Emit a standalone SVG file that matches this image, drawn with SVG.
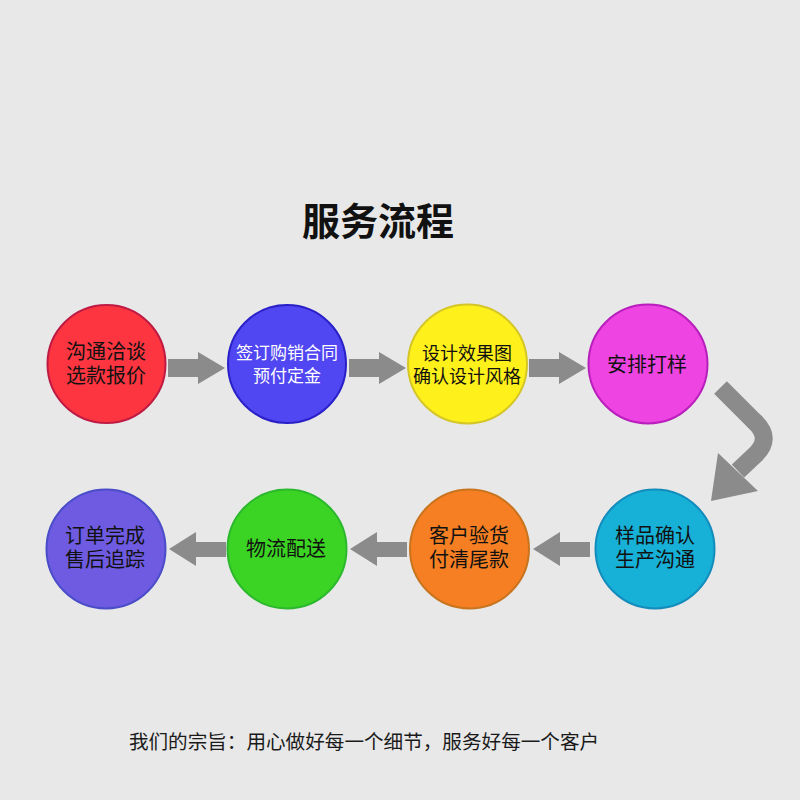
<svg xmlns="http://www.w3.org/2000/svg" width="800" height="800" viewBox="0 0 800 800">
<style>
text{font-family:"Noto Sans CJK SC","Noto Sans",sans-serif;text-anchor:middle;dominant-baseline:central;fill:#111}
.t{font-family:"Liberation Sans","Noto Sans CJK SC",sans-serif}
.n{font-size:20px}
.s{font-size:17px}
.m{font-size:18px}
.w{fill:#fff}
.arr{fill:#8b8b8b}
.c{stroke-width:2}
</style>
<rect width="800" height="800" fill="#e8e8e8"/>
<text x="378" y="218" style="font-size:38px;font-weight:bold">服务流程</text>
<g id="connectors">
<polygon class="arr" points="168,359 198,359 198,352 225,368 198,384 198,377 168,377"/>
<polygon class="arr" points="349,359 379,359 379,352 406,368 379,384 379,377 349,377"/>
<polygon class="arr" points="529,359 559,359 559,352 586,368 559,384 559,377 529,377"/>
<path d="M720.5 387.5 L754 421 Q773 438 755 455 L738 471" fill="none" stroke="#8b8b8b" stroke-width="18"/>
<polygon class="arr" points="718,453 758,491 711,501"/>
<polygon class="arr" points="590,542 560,542 560,532 533,549 560,566 560,557 590,557"/>
<polygon class="arr" points="407,542 377,542 377,532 350,549 377,566 377,557 407,557"/>
<polygon class="arr" points="226,542 196,542 196,532 169,549 196,566 196,557 226,557"/>
</g>
<g id="n1"><circle class="c" cx="106.5" cy="364" r="59" fill="#fd3540" stroke="#be1a44"/><text class="t n"><tspan x="106" y="352">沟通洽谈</tspan><tspan x="106" y="376">选款报价</tspan></text></g>
<g id="n2"><circle class="c" cx="287" cy="364" r="59" fill="#5046f2" stroke="#2a20c8"/><text class="t s w"><tspan x="287" y="352.5">签订购销合同</tspan><tspan x="287" y="375.5">预付定金</tspan></text></g>
<g id="n3"><circle class="c" cx="467.5" cy="364" r="59.5" fill="#fef01a" stroke="#d4c628"/><text class="t m"><tspan x="467" y="353.5">设计效果图</tspan><tspan x="467" y="376.5">确认设计风格</tspan></text></g>
<g id="n4"><circle class="c" cx="648" cy="364" r="59.5" fill="#ee44e2" stroke="#b81ebc"/><text class="n" x="647" y="363">安排打样</text></g>
<g id="n5"><circle class="c" cx="655" cy="549" r="59.5" fill="#17b0d6" stroke="#138cbc"/><text class="t n"><tspan x="655" y="536">样品确认</tspan><tspan x="655" y="560">生产沟通</tspan></text></g>
<g id="n6"><circle class="c" cx="469.5" cy="549" r="59.5" fill="#f57f22" stroke="#c8741e"/><text class="t n"><tspan x="469" y="536">客户验货</tspan><tspan x="469" y="560">付清尾款</tspan></text></g>
<g id="n7"><circle class="c" cx="287" cy="549" r="59.5" fill="#3cd424" stroke="#2cb82c"/><text class="n" x="286" y="547">物流配送</text></g>
<g id="n8"><circle class="c" cx="106" cy="549" r="59.5" fill="#6e5be2" stroke="#4a4cc8"/><text class="t n"><tspan x="105" y="536">订单完成</tspan><tspan x="105" y="560">售后追踪</tspan></text></g>
<text x="364" y="740" style="font-size:19.6px;fill:#1a1a1a">我们的宗旨：用心做好每一个细节，服务好每一个客户</text>
</svg>
